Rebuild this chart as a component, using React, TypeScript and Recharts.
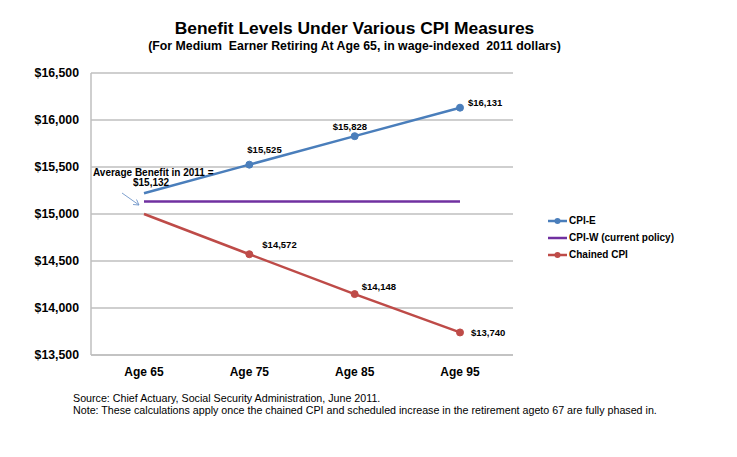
import React from 'react';
import { LineChart, Line, XAxis, YAxis, CartesianGrid, LabelList } from 'recharts';

const categories = ['Age 65', 'Age 75', 'Age 85', 'Age 95'];
const cpiE = [15220, 15525, 15828, 16131];
const cpiW = [15132, 15132, 15132, 15132];
const chainedCpi = [15000, 14572, 14148, 13740];
const yTicks = [13500, 14000, 14500, 15000, 15500, 16000, 16500];
const seriesNames = ['CPI-E', 'CPI-W (current policy)', 'Chained CPI'];
const titleText = 'Benefit Levels Under Various CPI Measures';
const subtitleText = '(For Medium  Earner Retiring At Age 65, in wage-indexed  2011 dollars)';
const sourceText = 'Source: Chief Actuary, Social Security Administration, June 2011.';
const noteText = 'Note: These calculations apply once the chained CPI and scheduled increase in the retirement ageto 67 are fully phased in.';
const annotationLine1 = 'Average Benefit in 2011 =';
const annotationLine2 = '$15,132';

const data = categories.map((c, i) => ({
  category: c,
  cpiE: cpiE[i],
  cpiW: cpiW[i],
  chained: chainedCpi[i],
}));

const COLORS = ['#4a7ebb', '#7030a0', '#be4b48'];
const FONT = '"Liberation Sans", Arial, sans-serif';
const GRID = '#bfbfbf';

const fmt = (v: number) => '$' + v.toLocaleString('en-US');

// label offsets (dx from dot to text start, dy from dot to text middle)
const eOffsets = [null, [-2, -15], [-22, -10], [8, -5]];
const cOffsets = [null, [13, -10], [7, -8], [11, 0]];

const makeLabel = (offsets: any[]) => (props: any) => {
  const { x, y, value, index } = props;
  const o = offsets[index];
  if (!o) return null;
  return (
    <text
      x={x + o[0]}
      y={y + o[1]}
      dominantBaseline="central"
      fontFamily={FONT}
      fontSize={9.5}
      fontWeight="bold"
      fill="#000"
    >
      {fmt(value)}
    </text>
  );
};

const makeDot = (color: string) => (props: any) => {
  const { cx, cy, index } = props;
  if (index === 0) return <g key={`d${index}`} />;
  return <circle key={`d${index}`} cx={cx} cy={cy} r={3.5} fill={color} stroke={color} strokeWidth={1} />;
};

export default function App() {
  return (
    <div style={{ position: 'absolute', left: 0, top: 0, width: 737, height: 457, background: '#fff', fontFamily: FONT }}>
      <LineChart
        width={737}
        height={457}
        data={data}
        margin={{ top: 73, right: 224, bottom: 72, left: 11 }}
      >
        <CartesianGrid horizontal={true} vertical={false} stroke={GRID} strokeWidth={1.3} />
        <XAxis
          dataKey="category"
          axisLine={{ stroke: GRID, strokeWidth: 1.5 }}
          tickLine={false}
          height={30}
          padding={{ left: 53, right: 53 }}
          tickMargin={6}
          tick={{ fill: '#000', fontSize: 12, fontWeight: 'bold', fontFamily: FONT }}
        />
        <YAxis
          width={80}
          domain={[13500, 16500]}
          ticks={yTicks}
          interval={0}
          axisLine={{ stroke: GRID, strokeWidth: 1.5 }}
          tickLine={false}
          tickMargin={6}
          tickFormatter={fmt}
          tick={{ fill: '#000', fontSize: 12.3, fontWeight: 'bold', fontFamily: FONT }}
        />
        <Line
          dataKey="cpiW"
          name={seriesNames[1]}
          stroke={COLORS[1]}
          strokeWidth={2.5}
          dot={false}
          isAnimationActive={false}
        />
        <Line
          dataKey="cpiE"
          name={seriesNames[0]}
          stroke={COLORS[0]}
          strokeWidth={2.5}
          dot={makeDot(COLORS[0])}
          isAnimationActive={false}
        >
          <LabelList dataKey="cpiE" content={makeLabel(eOffsets)} />
        </Line>
        <Line
          dataKey="chained"
          name={seriesNames[2]}
          stroke={COLORS[2]}
          strokeWidth={2.5}
          dot={makeDot(COLORS[2])}
          isAnimationActive={false}
        >
          <LabelList dataKey="chained" content={makeLabel(cOffsets)} />
        </Line>
      </LineChart>

      {/* Title */}
      <div style={{ position: 'absolute', left: 0, width: 709, top: 18, textAlign: 'center', fontSize: 17.4, fontWeight: 'bold', color: '#000', lineHeight: '20px' }}>
        {titleText}
      </div>
      <div style={{ position: 'absolute', left: 0, width: 709, top: 39, textAlign: 'center', fontSize: 12.3, fontWeight: 'bold', color: '#000', whiteSpace: 'pre', lineHeight: '14px' }}>
        {subtitleText}
      </div>

      {/* Annotation */}
      <div style={{ position: 'absolute', left: 93, top: 167, fontSize: 10, fontWeight: 'bold', color: '#000', lineHeight: '12px', whiteSpace: 'nowrap' }}>
        {annotationLine1}
      </div>
      <div style={{ position: 'absolute', left: 133, top: 177, fontSize: 10, fontWeight: 'bold', color: '#000', lineHeight: '12px', whiteSpace: 'nowrap' }}>
        {annotationLine2}
      </div>
      <svg style={{ position: 'absolute', left: 0, top: 0 }} width={737} height={457} pointerEvents="none">
        <line x1={122} y1={193} x2={139} y2={205} stroke="#6f95c8" strokeWidth={0.9} />
        <polyline points="133,204.5 139,205 136.5,199.5" fill="none" stroke="#6f95c8" strokeWidth={0.9} />
      </svg>

      {/* Legend */}
      <div style={{ position: 'absolute', left: 548, top: 212 }}>
        {seriesNames.map((name, i) => (
          <div key={name} style={{ display: 'flex', alignItems: 'center', height: 17 }}>
            <svg width={20} height={10} style={{ marginRight: 1 }}>
              <line x1={0} y1={5} x2={19} y2={5} stroke={COLORS[i]} strokeWidth={2.5} />
              {i !== 1 && <circle cx={9.5} cy={5} r={3} fill={COLORS[i]} />}
            </svg>
            <span style={{ fontSize: 10, fontWeight: 'bold', color: '#000', whiteSpace: 'nowrap' }}>{name}</span>
          </div>
        ))}
      </div>

      {/* Footnotes */}
      <div style={{ position: 'absolute', left: 73, top: 392, fontSize: 10.7, color: '#000', lineHeight: '12px', whiteSpace: 'nowrap' }}>
        {sourceText}
      </div>
      <div style={{ position: 'absolute', left: 73, top: 404, fontSize: 10.7, color: '#000', lineHeight: '12px', whiteSpace: 'nowrap' }}>
        {noteText}
      </div>
    </div>
  );
}
